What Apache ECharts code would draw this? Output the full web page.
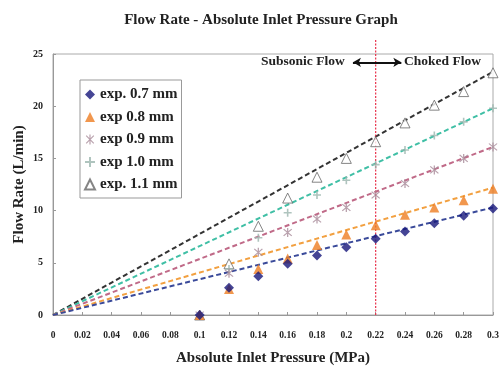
<!DOCTYPE html>
<html>
<head>
<meta charset="utf-8">
<script src="https://cdn.jsdelivr.net/npm/echarts@6/dist/echarts.min.js"></script>
<style>
  html, body { margin: 0; padding: 0; background: #fff; }
  #chart { width: 501px; height: 370px; }
</style>
</head>
<body>
<div id="chart"></div>
<script>
// measured points (MPa, L/min)
const pressure = [0.1, 0.12, 0.14, 0.16, 0.18, 0.2, 0.22, 0.24, 0.26, 0.28, 0.3];
const flow07 = [0, 2.6, 3.7, 4.9, 5.7, 6.5, 7.3, 8.0, 8.8, 9.5, 10.2];
const flow08 = [0, 2.5, 4.4, 5.4, 6.7, 7.7, 8.6, 9.6, 10.3, 11.0, 12.1];
const flow09 = [0, 4.0, 6.0, 7.9, 9.2, 10.3, 11.5, 12.6, 13.9, 15.0, 16.1];
const flow10 = [0, 4.4, 7.4, 9.8, 11.5, 12.9, 14.4, 15.8, 17.2, 18.5, 19.8];
const flow11 = [0, 4.9, 8.5, 11.2, 13.2, 15.0, 16.6, 18.4, 20.1, 21.4, 23.2];
// trend lines from origin to x = 0.3
const fitX = [0, 0.3];
const fit07 = [0, 10.3];
const fit08 = [0, 12.2];
const fit09 = [0, 16.1];
const fit10 = [0, 19.8];
const fit11 = [0, 23.3];
const chokeX = 0.22;
const seriesNames = ["exp. 0.7 mm", "exp 0.8 mm", "exp 0.9 mm", "exp 1.0 mm", "exp. 1.1 mm"];

const serif = "Liberation Serif";
const zip = (xs, ys) => xs.map((x, i) => [x, ys[i]]);

const plusPath = "path://M4,0H6V4H10V6H6V10H4V6H0V4H4Z";
const starPath = "path://M4.4,0H5.6V10H4.4Z M0.8,1.6L1.6,0.8L9.2,8.4L8.4,9.2Z M8.4,0.8L9.2,1.6L1.6,9.2L0.8,8.4Z";

function fitLine(ys, color) {
  return {
    type: "line", name: "fit", data: zip(fitX, ys), symbol: "none", silent: true,
    lineStyle: { color: color, width: 2, type: [5, 3] }, z: 1,
  };
}

const chart = echarts.init(document.getElementById("chart"));
chart.setOption({
  animation: false,
  backgroundColor: "#fff",
  title: {
    text: "Flow Rate - Absolute Inlet Pressure Graph",
    left: 256, top: 8, textAlign: "center",
    textStyle: { fontFamily: serif, fontSize: 15, fontWeight: "bold", color: "#222" },
  },
  legend: {
    data: seriesNames,
    orient: "vertical",
    left: 80, top: 80,
    padding: [7, 4, 6, 4],
    itemGap: 7.5,
    itemWidth: 10, itemHeight: 10,
    borderColor: "#999", borderWidth: 1,
    textStyle: { fontFamily: serif, fontSize: 15, fontWeight: "bold", color: "#222" },
  },
  grid: {
    left: 53, right: 8, top: 54, bottom: 55, outerBoundsMode: "none",
    show: true, borderColor: "#aaa", borderWidth: 1,
  },
  xAxis: {
    type: "value", min: 0, max: 0.3, interval: 0.02,
    name: "Absolute Inlet Pressure (MPa)", nameLocation: "middle", nameGap: 36,
    nameTextStyle: { fontFamily: serif, fontSize: 15, fontWeight: "bold", color: "#222" },
    axisLine: { lineStyle: { color: "#999" } },
    axisTick: { inside: true, length: 3, lineStyle: { color: "#999" } },
    axisLabel: {
      fontFamily: serif, fontSize: 9.5, fontWeight: "bold", color: "#222", margin: 16,
      formatter: (v) => String(+v.toFixed(2)),
    },
    splitLine: { show: false },
  },
  yAxis: {
    type: "value", min: 0, max: 25, interval: 5,
    name: "Flow Rate (L/min)", nameLocation: "middle", nameGap: 26, nameRotate: 90,
    nameMoveOverlap: false,
    nameTextStyle: { fontFamily: serif, fontSize: 15, fontWeight: "bold", color: "#222" },
    axisLine: { lineStyle: { color: "#999" } },
    axisTick: { inside: true, length: 3, lineStyle: { color: "#999" } },
    axisLabel: { fontFamily: serif, fontSize: 10, fontWeight: "bold", color: "#222", margin: 10 },
    splitLine: { show: false },
  },
  graphic: [
    { type: "text", left: 261, top: 55, style: { text: "Subsonic Flow", font: "bold 13.5px 'Liberation Serif'", fill: "#222" } },
    { type: "text", left: 404, top: 55, style: { text: "Choked Flow", font: "bold 13.5px 'Liberation Serif'", fill: "#222" } },
  ],
  series: [
    fitLine(fit11, "#333"),
    fitLine(fit10, "#3fbfa5"),
    fitLine(fit09, "#c06a88"),
    fitLine(fit08, "#f2a040"),
    fitLine(fit07, "#3a4a9a"),
    {
      type: "line", name: "choke", silent: true, clip: false, symbol: "none", z: 2,
      data: [[chokeX, 0], [chokeX, 26.4]],
      lineStyle: { color: "#e8304a", width: 1.2, type: [2, 1.5] },
      markLine: {
        silent: true, symbol: ["arrow", "arrow"], symbolSize: [7, 8],
        lineStyle: { color: "#111", width: 2.2, type: "solid" },
        label: { show: false },
        data: [[{ coord: [0.2045, 24.2] }, { coord: [0.2375, 24.2] }]],
      },
    },
    {
      type: "scatter", name: seriesNames[4], data: zip(pressure, flow11), z: 3,
      symbol: "triangle", symbolSize: 10,
      itemStyle: { color: "#fff", borderColor: "#666", borderWidth: 1 },
    },
    {
      type: "scatter", name: seriesNames[3], data: zip(pressure, flow10), z: 3,
      symbol: plusPath, symbolSize: 8,
      itemStyle: { color: "#9bb5ae" },
    },
    {
      type: "scatter", name: seriesNames[2], data: zip(pressure, flow09), z: 3,
      symbol: starPath, symbolSize: 9,
      itemStyle: { color: "#a88a98" },
    },
    {
      type: "scatter", name: seriesNames[1], data: zip(pressure, flow08), z: 3,
      symbol: "triangle", symbolSize: 10,
      itemStyle: { color: "#ee7d22" },
    },
    {
      type: "scatter", name: seriesNames[0], data: zip(pressure, flow07), z: 3,
      symbol: "diamond", symbolSize: 10,
      itemStyle: { color: "#16167a" },
    },
  ],
});
</script>
</body>
</html>
